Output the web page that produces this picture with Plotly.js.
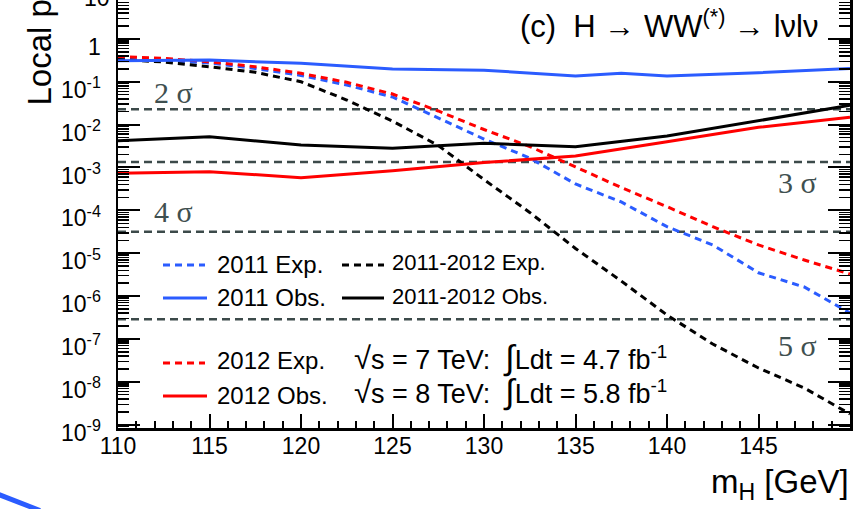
<!DOCTYPE html>
<html><head><meta charset="utf-8">
<script src="https://cdn.plot.ly/plotly-3.0.1.min.js"></script>
<style>html,body{margin:0;padding:0;background:#fff;}#chart{width:854px;height:509px;}</style>
</head><body><div id="chart"></div>
<script>
// ---- data ----
const massExp = [110,112.5,115,117.5,120,122.5,125,127.5,130,132.5,135,137.5,140,142.5,145,147.5,150];
const exp2011 = [0.339,0.313,0.274,0.204,0.140,0.084,0.0441,0.0143,4.61e-3,1.66e-3,4.12e-4,1.57e-4,4.16e-5,1.56e-5,3.5e-6,1.63e-6,4.04e-7];
const exp2012 = [0.388,0.352,0.293,0.224,0.157,0.097,0.0518,0.0208,7.69e-3,3.08e-3,1.03e-3,3.41e-4,1.22e-4,4.16e-5,1.56e-5,6.95e-6,3.27e-6];
const expComb = [0.330,0.289,0.224,0.166,0.100,0.0375,0.0121,3.26e-3,5.21e-4,8.95e-5,1.29e-5,2.25e-6,3.62e-7,7.62e-8,2.10e-8,7.18e-9,1.78e-9];
const massObs2011 = [110,115,120,125,130,135,137.5,140,145,150];
const obs2011 = [0.31,0.32,0.27,0.198,0.186,0.136,0.157,0.136,0.163,0.204];
const massObs = [110,115,120,125,130,135,140,145,150];
const obs2012 = [7.3e-4,8.0e-4,5.8e-4,8.4e-4,1.3e-3,1.85e-3,4.0e-3,8.65e-3,1.48e-2];
const obsComb = [4.2e-3,5.2e-3,3.34e-3,2.8e-3,3.66e-3,3.05e-3,5.4e-3,1.23e-2,2.82e-2];
const sigmaLabels = ['2 σ','3 σ','4 σ','5 σ'];
const sigmaP = [0.02275,0.00135,3.167e-5,2.867e-7];
const xTickVals = [110,115,120,125,130,135,140,145];
const yTickVals = [1e-9,1e-8,1e-7,1e-6,1e-5,1e-4,1e-3,1e-2,1e-1,1];
const yTickText = ['10<sup>-9</sup>','10<sup>-8</sup>','10<sup>-7</sup>','10<sup>-6</sup>','10<sup>-5</sup>','10<sup>-4</sup>','10<sup>-3</sup>','10<sup>-2</sup>','10<sup>-1</sup>','1'];
const legendLabels = ['2011 Exp.','2011 Obs.','2011-2012 Exp.','2011-2012 Obs.','2012 Exp.','2012 Obs.'];
const lumiLabels = [
  '<span style="font-size:31px">√</span>s = 7 TeV:  <span style="font-size:34px">∫</span>Ldt = 4.7 fb<sup>-1</sup>',
  '<span style="font-size:31px">√</span>s = 8 TeV:  <span style="font-size:34px">∫</span>Ldt = 5.8 fb<sup>-1</sup>'];
const titleText = '(c)  H → WW<sup>(*)</sup> → lνlν';

// ---- styling ----
const BLUE = '#2b5cff', RED = '#ff0000', BLACK = '#000000', SIG = '#3c4a4a';
const FONT = 'Liberation Sans, Arial, sans-serif';
const DASH = '7px,5px';
const L = 118, R = 4, T = 0, B = 81, W = 854, H = 509;
const pw = W - L - R, ph = H - T - B;
const px = x => (x - L) / pw;
const py = y => (ph + T - y) / ph;

const traces = [];
sigmaP.forEach((p) => {
  traces.push({x:[massExp[0], massExp[massExp.length-1]], y:[p,p], mode:'lines',
    line:{color:SIG, width:2.5, dash:'8px,5px'}, hoverinfo:'skip', showlegend:false});
});
traces.push({x:massExp, y:exp2011, mode:'lines', line:{color:BLUE, width:3, dash:DASH}, showlegend:false});
traces.push({x:massExp, y:exp2012, mode:'lines', line:{color:RED, width:3, dash:DASH}, showlegend:false});
traces.push({x:massExp, y:expComb, mode:'lines', line:{color:BLACK, width:3, dash:DASH}, showlegend:false});
traces.push({x:massObs2011, y:obs2011, mode:'lines', line:{color:BLUE, width:3}, showlegend:false});
traces.push({x:massObs, y:obs2012, mode:'lines', line:{color:RED, width:3}, showlegend:false});
traces.push({x:massObs, y:obsComb, mode:'lines', line:{color:BLACK, width:3}, showlegend:false});

const ann = [];
const txt = (text, x, y, opts) => Object.assign({text, xref:'paper', yref:'paper', x:px(x), y:py(y),
  xanchor:'left', yanchor:'middle', showarrow:false, font:{family:FONT, size:24, color:'#000'}}, opts||{});
const f22 = {font:{family:FONT, size:22, color:'#000'}};

// legend texts
ann.push(txt(legendLabels[0], 215, 264));
ann.push(txt(legendLabels[1], 215, 297.5));
ann.push(txt(legendLabels[2], 390, 263, f22));
ann.push(txt(legendLabels[3], 390, 296.5, f22));
ann.push(txt(legendLabels[4], 215, 360.5));
ann.push(txt(legendLabels[5], 215, 395.3));
ann.push(txt(lumiLabels[0], 352, 357, {font:{family:FONT, size:27, color:'#000'}}));
ann.push(txt(lumiLabels[1], 352, 391, {font:{family:FONT, size:27, color:'#000'}}));
// title
ann.push(txt(titleText, 518, 24, {font:{family:FONT, size:31, color:'#000'}}));
// sigma labels
const sigFont = {family:'Liberation Serif, Times New Roman, serif', size:30, color:'#3f5050'};
ann.push(txt(sigmaLabels[0], 152, 92.5, {font:sigFont}));
ann.push(txt(sigmaLabels[1], 776, 182.7, {font:sigFont}));
ann.push(txt(sigmaLabels[2], 152, 211.7, {font:sigFont}));
ann.push(txt(sigmaLabels[3], 776, 345.5, {font:sigFont}));
// axis titles
ann.push(txt('m<sub>H</sub> [GeV]', 851, 484, {xanchor:'right', font:{family:FONT, size:33, color:'#000'}}));
ann.push(txt('Local p<sub>0</sub>', 41, 108, {xanchor:'center', yanchor:'bottom', textangle:-90, font:{family:FONT, size:33, color:'#000'}}));
// cut-off top tick label
ann.push(txt('10', 112, -1.5, {xanchor:'right', font:{family:FONT, size:23, color:'#000'}}));

const line = (x0,x1,y,color,dash) => ({type:'line', xref:'paper', yref:'paper', x0:px(x0), x1:px(x1), y0:py(y), y1:py(y),
  line:{color, width:3, dash:dash||'solid'}});
const shapes = [
  line(163,205,265,BLUE,DASH), line(163,207,298,BLUE),
  line(342,384,265,BLACK,DASH), line(342,384,298,BLACK),
  line(163,205,363,RED,DASH), line(163,207,396,RED),
  {type:'line', xref:'paper', yref:'paper', x0:px(-5), y0:py(493), x1:px(40), y1:py(510.5), line:{color:BLUE, width:5}}
];

const layout = {
  width:W, height:H, margin:{l:L, r:R, t:T, b:B, pad:0},
  paper_bgcolor:'#fff', plot_bgcolor:'#fff', showlegend:false,
  font:{family:FONT, color:'#000'},
  xaxis:{range:[110,150], showgrid:false, zeroline:false, showline:true, linecolor:'#000', linewidth:2.5,
    mirror:false, ticks:'inside', ticklen:14, tickwidth:2, tickcolor:'#000',
    tickmode:'array', tickvals:xTickVals, tickfont:{family:FONT, size:23, color:'#000'},
    ticklabelstandoff:-4,
    minor:{tickmode:'linear', tick0:110, dtick:1, ticks:'inside', ticklen:7, tickwidth:2, tickcolor:'#000', showgrid:false}},
  yaxis:{type:'log', range:[-9.077, 0.907], showgrid:false, zeroline:false, showline:true, linecolor:'#000', linewidth:2.5,
    mirror:'ticks', ticks:'inside', ticklen:22, tickwidth:2, tickcolor:'#000',
    tickmode:'array', tickvals:yTickVals, ticktext:yTickText,
    tickfont:{family:FONT, size:23, color:'#000'}, ticklabelstandoff:10, ticklabelshift:8,
    minor:{dtick:'D1', ticks:'inside', ticklen:11, tickwidth:1.5, tickcolor:'#000', showgrid:false}},
  annotations:ann, shapes:shapes
};
Plotly.newPlot('chart', traces, layout, {displayModeBar:false, staticPlot:true});
</script></body></html>
